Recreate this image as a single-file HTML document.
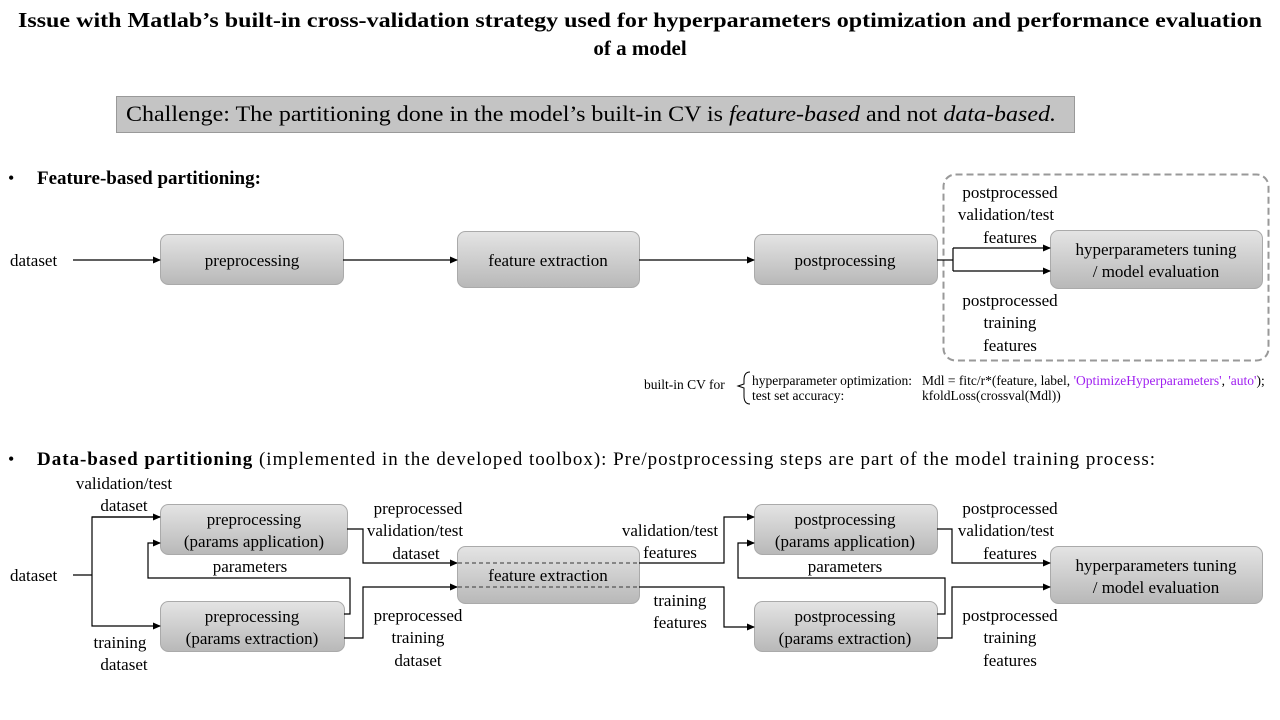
<!DOCTYPE html>
<html><head><meta charset="utf-8"><style>
html,body{margin:0;padding:0;background:#fff}
svg{display:block;font-family:"Liberation Serif",serif}
</style></head><body>
<svg width="1280" height="720" viewBox="0 0 1280 720" xmlns="http://www.w3.org/2000/svg">
<defs>
<linearGradient id="g" x1="0" y1="0" x2="0" y2="1"><stop offset="0" stop-color="#e4e4e4"/><stop offset="1" stop-color="#b8b8b8"/></linearGradient>
<marker id="a" markerWidth="8" markerHeight="8" refX="7" refY="4" orient="auto" markerUnits="userSpaceOnUse"><path d="M0,0.5 L8,4 L0,7.5 z" fill="#000"/></marker>
</defs>
<g font-weight="bold" font-size="21" text-anchor="middle">
<text x="640" y="27" textLength="1244" lengthAdjust="spacingAndGlyphs">Issue with Matlab’s built-in cross-validation strategy used for hyperparameters optimization and performance evaluation</text>
<text x="640" y="55">of a model</text>
</g>
<rect x="116.5" y="96.5" width="958" height="36" fill="#c4c4c4" stroke="#999"/>
<text x="126" y="121" font-size="22" textLength="930" lengthAdjust="spacingAndGlyphs">Challenge: The partitioning done in the model’s built-in CV is <tspan font-style="italic">feature-based</tspan> and not <tspan font-style="italic">data-based.</tspan></text>

<text x="8" y="184" font-size="18">•</text>
<text x="37" y="184" font-size="19" font-weight="bold">Feature-based partitioning:</text>

<g fill="url(#g)" stroke="#aaa">
<rect x="160.5" y="234.5" width="183" height="50" rx="8"/>
<rect x="457.5" y="231.5" width="182" height="56" rx="8"/>
<rect x="754.5" y="234.5" width="183" height="50" rx="8"/>
<rect x="1050.5" y="230.5" width="212" height="58" rx="8"/>
</g>
<rect x="943.5" y="174.5" width="325" height="186" rx="12" fill="none" stroke="#999" stroke-width="2" stroke-dasharray="7,4"/>
<g font-size="17" text-anchor="middle">
<text x="252" y="266">preprocessing</text>
<text x="548" y="266">feature extraction</text>
<text x="845" y="266">postprocessing</text>
<text x="1156" y="255">hyperparameters tuning</text>
<text x="1156" y="277">/ model evaluation</text>
<text x="1010" y="198">postprocessed</text>
<text x="1006" y="220">validation/test</text>
<text x="1010" y="243">features</text>
<text x="1010" y="306">postprocessed</text>
<text x="1010" y="328">training</text>
<text x="1010" y="351">features</text>
</g>
<text x="10" y="266" font-size="17">dataset</text>
<g stroke="#000" stroke-width="1.2" fill="none">
<line x1="73" y1="260" x2="160" y2="260" marker-end="url(#a)"/>
<line x1="343" y1="260" x2="457" y2="260" marker-end="url(#a)"/>
<line x1="639" y1="260" x2="754" y2="260" marker-end="url(#a)"/>
<line x1="937" y1="260" x2="953" y2="260"/>
<line x1="953" y1="248" x2="953" y2="271"/>
<line x1="953" y1="248" x2="1050" y2="248" marker-end="url(#a)"/>
<line x1="953" y1="271" x2="1050" y2="271" marker-end="url(#a)"/>
</g>

<g font-size="13.5">
<text x="644" y="389">built-in CV for</text>
<text x="752" y="385">hyperparameter optimization:</text>
<text x="752" y="400">test set accuracy:</text>
<text x="922" y="385">Mdl = fitc/r*(feature, label, <tspan fill="#a020f0">'OptimizeHyperparameters'</tspan>, <tspan fill="#a020f0">'auto'</tspan>);</text>
<text x="922" y="400">kfoldLoss(crossval(Mdl))</text>
</g>
<path d="M750,372 Q744,372 744,380 L744,384 L738,386 L744,388 L744,396 Q744,404 750,404" fill="none" stroke="#000" stroke-width="1"/>

<text x="8" y="465" font-size="18">•</text>
<text x="37" y="465" font-size="19" textLength="1118" lengthAdjust="spacing"><tspan font-weight="bold">Data-based partitioning</tspan>  (implemented  in the developed toolbox): Pre/postprocessing  steps are part of the model training process:</text>

<g fill="url(#g)" stroke="#aaa">
<rect x="160.5" y="504.5" width="187" height="50" rx="8"/>
<rect x="160.5" y="601.5" width="184" height="50" rx="8"/>
<rect x="457.5" y="546.5" width="182" height="57" rx="8"/>
<rect x="754.5" y="504.5" width="183" height="50" rx="8"/>
<rect x="754.5" y="601.5" width="183" height="50" rx="8"/>
<rect x="1050.5" y="546.5" width="212" height="57" rx="8"/>
</g>
<g stroke="#000" stroke-width="1.2" fill="none">
<polyline points="73,575 92,575"/>
<polyline points="160,517 92,517 92,626 160,626" marker-end="url(#a)"/>
<line x1="92" y1="517" x2="160" y2="517" marker-end="url(#a)"/>
<polyline points="344,614 350,614 350,578 148,578 148,543 160,543" marker-end="url(#a)"/>
<polyline points="347,529 363,529 363,563 457,563" marker-end="url(#a)"/>
<polyline points="344,638 363,638 363,587 457,587" marker-end="url(#a)"/>
<polyline points="639,563 724,563 724,517 754,517" marker-end="url(#a)"/>
<polyline points="639,587 724,587 724,627 754,627" marker-end="url(#a)"/>
<polyline points="937,614 945,614 945,578 738,578 738,543 754,543" marker-end="url(#a)"/>
<polyline points="937,529 952,529 952,563 1050,563" marker-end="url(#a)"/>
<polyline points="937,638 952,638 952,587 1050,587" marker-end="url(#a)"/>
</g>
<g stroke="#555" stroke-width="1.2" stroke-dasharray="4,3">
<line x1="458" y1="563" x2="639" y2="563"/>
<line x1="458" y1="587" x2="639" y2="587"/>
</g>
<text x="10" y="581" font-size="17">dataset</text>
<g font-size="17" text-anchor="middle">
<text x="124" y="489">validation/test</text>
<text x="124" y="511">dataset</text>
<text x="120" y="648">training</text>
<text x="124" y="670">dataset</text>
<text x="254" y="525">preprocessing</text>
<text x="254" y="547">(params application)</text>
<text x="252" y="622">preprocessing</text>
<text x="252" y="644">(params extraction)</text>
<text x="250" y="572">parameters</text>
<text x="418" y="514">preprocessed</text>
<text x="415" y="536">validation/test</text>
<text x="416" y="559">dataset</text>
<text x="418" y="621">preprocessed</text>
<text x="418" y="643">training</text>
<text x="418" y="666">dataset</text>
<text x="548" y="581">feature extraction</text>
<text x="670" y="536">validation/test</text>
<text x="670" y="558">features</text>
<text x="680" y="606">training</text>
<text x="680" y="628">features</text>
<text x="845" y="525">postprocessing</text>
<text x="845" y="547">(params application)</text>
<text x="845" y="622">postprocessing</text>
<text x="845" y="644">(params extraction)</text>
<text x="845" y="572">parameters</text>
<text x="1010" y="514">postprocessed</text>
<text x="1006" y="536">validation/test</text>
<text x="1010" y="559">features</text>
<text x="1010" y="621">postprocessed</text>
<text x="1010" y="643">training</text>
<text x="1010" y="666">features</text>
<text x="1156" y="571">hyperparameters tuning</text>
<text x="1156" y="593">/ model evaluation</text>
</g>
</svg>
</body></html>
